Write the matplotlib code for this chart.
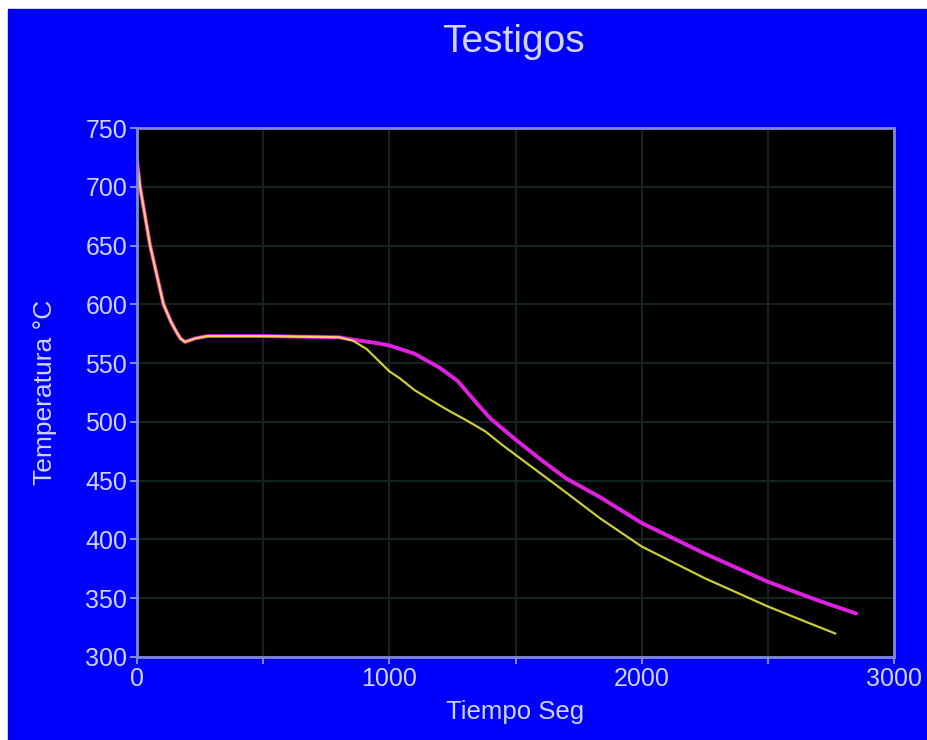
import matplotlib.pyplot as plt
from matplotlib.patches import Rectangle
from matplotlib.ticker import MultipleLocator

plt.rcParams["font.family"] = ["Liberation Sans", "DejaVu Sans"]

# curva magenta (testigo 1)
t_mag = [0, 12, 52, 105, 135, 155, 172, 190, 230, 280, 500, 800, 856, 950,
         1000, 1100, 1200, 1270, 1350, 1400, 1500, 1600, 1700, 1835, 2000,
         2250, 2500, 2700, 2850]
T_mag = [723, 700, 650, 600, 585, 577, 571, 568, 571, 573, 573, 572, 570, 567,
         565, 558, 546, 535, 515, 503, 485, 468, 452, 436, 414,
         388, 364, 348, 337]

# curva amarilla (testigo 2)
t_yel = [0, 12, 52, 105, 135, 155, 172, 190, 230, 280, 500, 800, 856, 910,
         1000, 1042, 1100, 1200, 1240, 1300, 1380, 1450, 1500, 1600, 1700,
         1835, 2000, 2250, 2500, 2650, 2767]
T_yel = [723, 700, 650, 600, 585, 577, 571, 568, 571, 573, 573, 572, 569, 562,
         543, 537, 527, 514, 509, 502, 492, 480, 472, 456, 440,
         418, 394, 367, 343, 330, 320]

fig = plt.figure(figsize=(9.27, 7.4), dpi=100, facecolor="white")
fig.add_artist(Rectangle((8 / 927, 0), 1, (740 - 9) / 740,
                         transform=fig.transFigure, color="#0000ff", zorder=-10))

ax = fig.add_axes([137 / 927, 1 - 657 / 740, 757 / 927, 529 / 740])
ax.set_zorder(1)
ax.set_facecolor("black")

ax.plot(t_mag, T_mag, color="#e020e0", lw=2.8, solid_capstyle="round")
ax.plot(t_yel, T_yel, color="#ffff40", lw=1.6, alpha=0.8)

ax.set_xlim(0, 3000)
ax.set_ylim(300, 750)
ax.xaxis.set_major_locator(MultipleLocator(1000))
ax.xaxis.set_minor_locator(MultipleLocator(500))
ax.yaxis.set_major_locator(MultipleLocator(50))
ax.grid(True, which="both", color="#142222", lw=1.5)
ax.set_axisbelow(True)

lav = "#8088dc"
txt = "#d0d4ff"
for s in ax.spines.values():
    s.set_color(lav)
    s.set_linewidth(2)
ax.tick_params(which="both", colors=lav, labelcolor=txt, labelsize=18,
               length=5, width=1.5, direction="out", pad=2)

ax.set_title("Testigos", color=txt, fontsize=28, x=0.497, y=1.0, pad=55)
ax.set_xlabel("Tiempo Seg", color=txt, fontsize=18.5, labelpad=7)
ax.set_ylabel("Temperatura °C", color=txt, fontsize=19, labelpad=20)

fig.savefig("out.png", dpi=100, facecolor=fig.get_facecolor())
